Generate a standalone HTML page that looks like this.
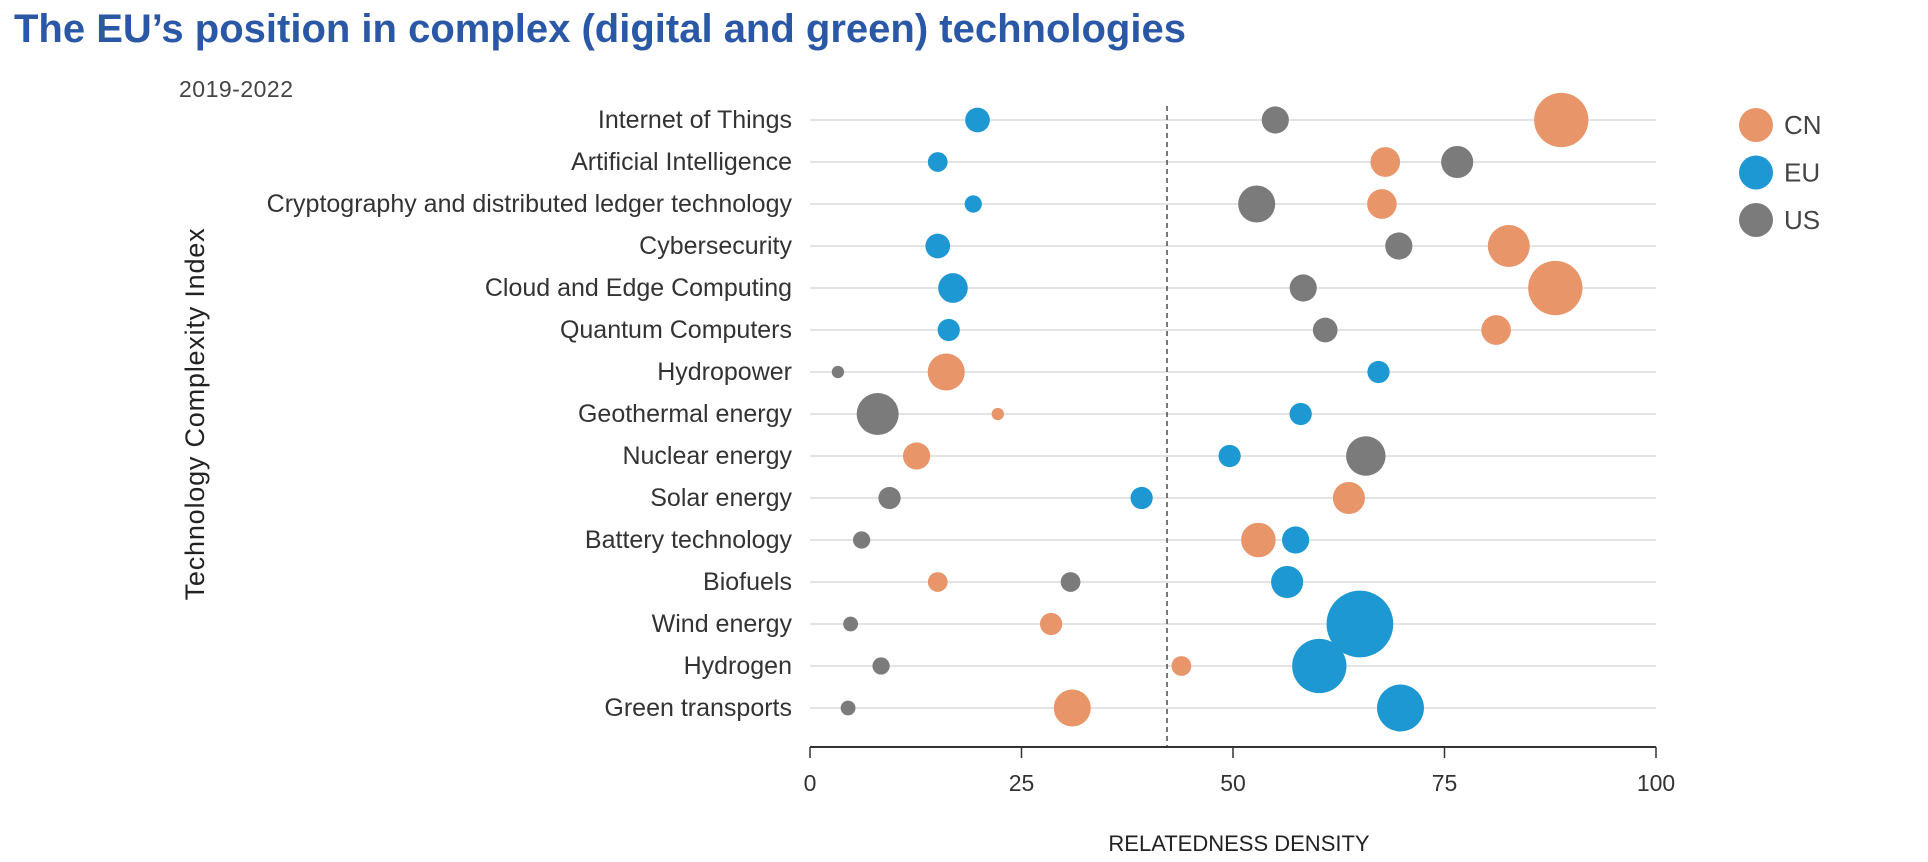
<!DOCTYPE html>
<html><head><meta charset="utf-8"><style>
body{margin:0;background:#fff;}
svg{display:block;font-family:"Liberation Sans",sans-serif;}
</style></head><body>
<svg id="chart" width="1928" height="862" viewBox="0 0 1928 862">
<text x="14" y="42" font-size="40" font-weight="bold" fill="#2a58a6">The EU’s position in complex (digital and green) technologies</text>
<text x="179" y="97" font-size="23" letter-spacing="0.5" fill="#444">2019-2022</text>
<text transform="translate(204,414) rotate(-90)" text-anchor="middle" font-size="27" letter-spacing="0.8" fill="#222">Technology Complexity Index</text>
<text x="1239" y="851" text-anchor="middle" font-size="22" fill="#222">RELATEDNESS DENSITY</text>
<g id="grid"></g><g id="axis"></g><g id="marks"></g><g id="legend"></g>
</svg>
<script>
const categories=["Internet of Things","Artificial Intelligence","Cryptography and distributed ledger technology","Cybersecurity","Cloud and Edge Computing","Quantum Computers","Hydropower","Geothermal energy","Nuclear energy","Solar energy","Battery technology","Biofuels","Wind energy","Hydrogen","Green transports"];
const cnValues=[88.8,68,67.6,82.6,88.1,81.1,16.1,22.2,12.6,63.7,53,15.1,28.5,43.9,31];
const cnSizes=[22,12,12,17,22,12,15,5,11,13,14,8,9,8,15];
const euValues=[19.8,15.1,19.3,15.1,16.9,16.4,67.2,58,49.6,39.2,57.4,56.4,65,60.2,69.8];
const euSizes=[10,8,7,10,12,9,9,9,9,9,11,13,27,22,19];
const usValues=[55,76.5,52.8,69.6,58.3,60.9,3.3,8,65.7,9.4,6.1,30.8,4.8,8.4,4.5];
const usSizes=[11,13,15,11,11,10,5,17,16,9,7,8,6,7,6];
const xTicks=[0,25,50,75,100];
const refValue=42.2;
const seriesNames=["CN","EU","US"];
const colors={CN:"#e8956a",EU:"#1e98d3",US:"#7b7b7b"};

const NS="http://www.w3.org/2000/svg";
const x0=810,x1=1656;
const xs=v=>x0+(v-0)/(100-0)*(x1-x0);
const ys=i=>120+i*42;
const rs=s=>s*1.235;
function mk(tag,attrs,parent,text){const e=document.createElementNS(NS,tag);for(const k in attrs)e.setAttribute(k,attrs[k]);if(text!==undefined)e.textContent=text;parent.appendChild(e);return e;}
const grid=document.getElementById('grid'),axis=document.getElementById('axis'),marks=document.getElementById('marks'),legend=document.getElementById('legend');
categories.forEach((c,i)=>{
  const l=mk('line',{x1:x0,x2:x1,y1:ys(i),y2:ys(i),stroke:"#dcdcdc","stroke-width":1.5},grid);
  
  
  const t=mk('text',{x:792,y:ys(i)+8,"text-anchor":"end","font-size":25,fill:"#333"},grid,c);
  
  
});
const al=mk('line',{x1:x0,x2:x1,y1:747,y2:747,stroke:"#333","stroke-width":2},axis);


xTicks.forEach(v=>{
  const tk=mk('line',{x1:xs(v),x2:xs(v),y1:747,y2:758,stroke:"#333","stroke-width":1.5},axis);
  
  
  const tl=mk('text',{x:xs(v),y:791,"text-anchor":"middle","font-size":23,fill:"#333"},axis,String(v));
  
  
});
const rl=mk('line',{x1:xs(refValue),x2:xs(refValue),y1:106,y2:747,stroke:"#333","stroke-width":1.3,"stroke-dasharray":"5,4"},axis);


const series=[["CN",cnValues,cnSizes],["EU",euValues,euSizes],["US",usValues,usSizes]];
series.forEach(([n,vals,sz])=>{
  vals.forEach((v,i)=>{
    const c=mk('circle',{cx:xs(v),cy:ys(i),r:rs(sz[i]),fill:colors[n]},marks);
    
    
  });
});
seriesNames.forEach((n,i)=>{
  const c=mk('circle',{cx:1756,cy:125+i*47.5,r:17,fill:colors[n]},legend);
  
  
  const t=mk('text',{x:1784,y:134+i*47.5,"font-size":26,fill:"#444"},legend,n);
  
  
});
</script>
</body></html>
